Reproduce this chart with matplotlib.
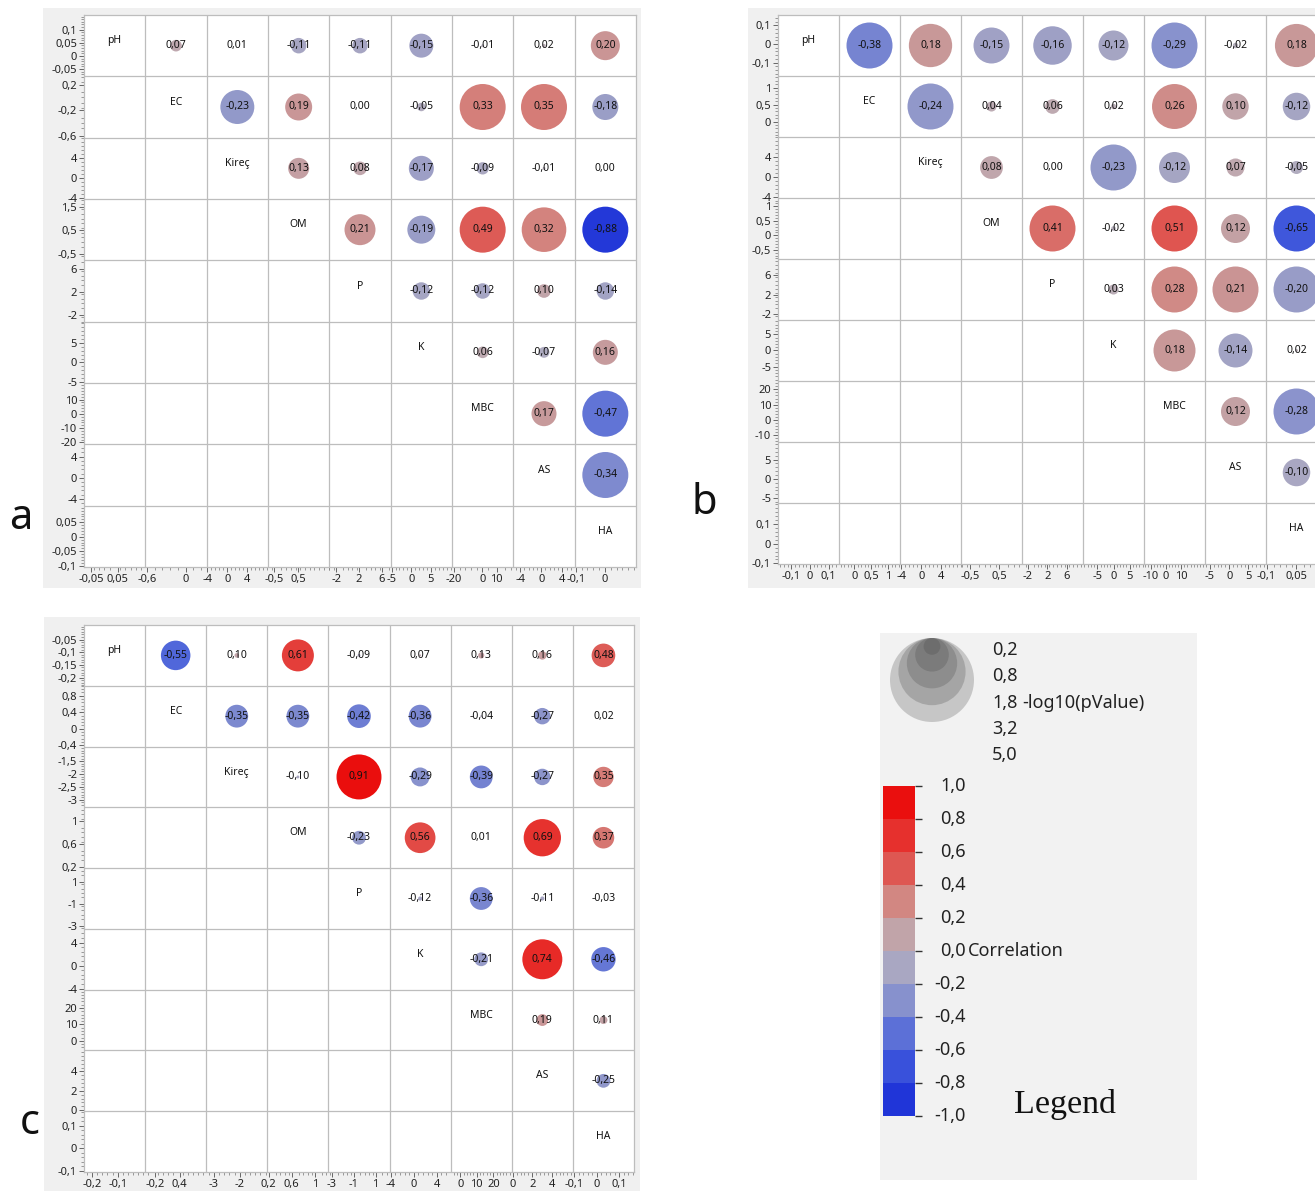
import numpy as np
import matplotlib
matplotlib.use("Agg")
import matplotlib.pyplot as plt
from matplotlib.colors import LinearSegmentedColormap
from matplotlib.patches import Rectangle, Circle
from matplotlib.transforms import blended_transform_factory

plt.rcParams['font.family'] = ['Noto Sans', 'DejaVu Sans']

W, H, DPI = 1315, 1191, 100

variables = ['pH', 'EC', 'Kireç', 'OM', 'P', 'K', 'MBC', 'AS', 'HA']

# upper triangles, one list per row (row i holds columns i+1 .. 8)
corr_a = [
    [0.07, 0.01, -0.11, -0.11, -0.15, -0.01, 0.02, 0.20],
    [-0.23, 0.19, 0.00, -0.05, 0.33, 0.35, -0.18],
    [0.13, 0.08, -0.17, -0.09, -0.01, 0.00],
    [0.21, -0.19, 0.49, 0.32, -0.88],
    [-0.12, -0.12, 0.10, -0.14],
    [0.06, -0.07, 0.16],
    [0.17, -0.47],
    [-0.34],
]
logp_a = [
    [0.32, 0.0, 0.57, 0.57, 1.36, 0.02, 0.03, 1.99],
    [2.73, 1.72, 0.0, 0.17, 5.0, 5.0, 1.6],
    [1.04, 0.44, 1.48, 0.36, 0.02, 0.0],
    [2.27, 1.85, 5.0, 4.7, 5.0],
    [0.72, 0.57, 0.44, 0.72],
    [0.32, 0.28, 1.48],
    [1.48, 5.0],
    [5.0],
]
range_a = [(-0.078, 0.156), (-0.624, 0.328), (-4.14, 8.13), (-0.77, 1.83), (-3.22, 7.53),
           (-5.23, 10.37), (-21.3, 21.6), (-5.28, 6.32), (-0.104, 0.107)]
yticks_a = [[0.1, 0.05, 0, -0.05], [0.2, -0.2, -0.6], [4, 0, -4], [1.5, 0.5, -0.5], [6, 2, -2],
            [5, 0, -5], [10, 0, -10, -20], [4, 0, -4], [0.05, 0, -0.05, -0.1]]
xticks_a = [[-0.05, 0.05], [-0.6, 0], [-4, 0, 4], [-0.5, 0.5], [-2, 2, 6],
            [-5, 0, 5], [-20, 0, 10], [-4, 0, 4], [-0.1, 0]]

corr_b = [
    [-0.38, 0.18, -0.15, -0.16, -0.12, -0.29, -0.02, 0.18],
    [-0.24, 0.04, 0.06, 0.02, 0.26, 0.10, -0.12],
    [0.08, 0.00, -0.23, -0.12, 0.07, -0.05],
    [0.41, -0.02, 0.51, 0.12, -0.65],
    [0.03, 0.28, 0.21, -0.20],
    [0.18, -0.14, 0.02],
    [0.12, -0.28],
    [-0.10],
]
logp_b = [
    [5.0, 4.43, 3.06, 3.5, 2.13, 5.0, 0.07, 4.4],
    [5.0, 0.24, 0.51, 0.07, 4.78, 1.65, 1.79],
    [1.23, 0.0, 5.0, 2.27, 0.77, 0.4],
    [5.0, 0.05, 5.0, 1.99, 5.0],
    [0.24, 5.0, 5.0, 5.0],
    [4.17, 2.73, 0.02],
    [1.99, 5.0],
    [1.79],
]
range_b = [(-0.172, 0.156), (-0.45, 1.34), (-4.3, 8.1), (-0.82, 1.29), (-3.17, 9.28),
           (-9.46, 9.44), (-14.5, 25.5), (-6.3, 9.6), (-0.103, 0.207)]
yticks_b = [[0.1, 0, -0.1], [1, 0.5, 0], [4, 0, -4], [1, 0.5, 0, -0.5], [6, 2, -2],
            [5, 0, -5], [20, 10, 0, -10], [5, 0, -5], [0.1, 0, -0.1]]
xticks_b = [[-0.1, 0, 0.1], [0, 0.5, 1], [-4, 0, 4], [-0.5, 0.5], [-2, 2, 6],
            [-5, 0, 5], [-10, 0, 10], [-5, 0, 5], [-0.1, 0.05]]

corr_c = [
    [-0.55, 0.10, 0.61, -0.09, 0.07, 0.13, 0.16, 0.48],
    [-0.35, -0.35, -0.42, -0.36, -0.04, -0.27, 0.02],
    [-0.10, 0.91, -0.29, -0.39, -0.27, 0.35],
    [-0.23, 0.56, 0.01, 0.69, 0.37],
    [-0.12, -0.36, -0.11, -0.03],
    [-0.21, 0.74, -0.46],
    [0.19, 0.11],
    [-0.25],
]
logp_c = [
    [2.06, 0.05, 2.42, 0.02, 0.01, 0.09, 0.17, 1.32],
    [1.23, 1.23, 1.32, 1.23, 0.01, 0.64, 0.0],
    [0.02, 4.78, 0.85, 1.23, 0.64, 0.98],
    [0.45, 2.23, 0.0, 3.29, 1.1],
    [0.04, 1.23, 0.04, 0.0],
    [0.45, 3.78, 1.41],
    [0.33, 0.15],
    [0.45],
]
range_c = [(-0.232, 0.0074), (-0.434, 1.042), (-3.3, -0.93), (0.178, 1.239), (-3.3, 2.27),
           (-4.2, 6.4), (-5.8, 31.2), (-0.1, 6.17), (-0.105, 0.165)]
yticks_c = [[-0.05, -0.1, -0.15, -0.2], [0.8, 0.4, 0, -0.4], [-1.5, -2, -2.5, -3], [1, 0.6, 0.2],
            [1, -1, -3], [4, 0, -4], [20, 10, 0], [4, 2, 0], [0.1, 0, -0.1]]
xticks_c = [[-0.2, -0.1], [-0.2, 0.4], [-3, -2], [0.2, 0.6, 1], [-3, -1, 1],
            [-4, 0, 4], [0, 10, 20], [0, 2, 4], [-0.1, 0, 0.1]]

# legend values
legend_logp = [0.2, 0.8, 1.8, 3.2, 5.0]
legend_corr = [1.0, 0.8, 0.6, 0.4, 0.2, 0.0, -0.2, -0.4, -0.6, -0.8, -1.0]

corr_stops = [-1.0, -0.6, -0.3, 0.0, 0.3, 0.6, 1.0]
corr_rgb = [(20, 40, 215), (70, 95, 220), (135, 145, 205), (185, 178, 188),
            (210, 135, 130), (228, 65, 60), (236, 0, 0)]
corr_cmap = LinearSegmentedColormap.from_list(
    'corr', [((v + 1) / 2, tuple(c / 255 for c in rgb)) for v, rgb in zip(corr_stops, corr_rgb)])

GRID_C = '#bdbdbd'
PANEL_BG = '#f0f0f0'
D_MAX, P_MAX = 46, 5.0      # bubble diameter (px) at the capped -log10(p)

fig = plt.figure(figsize=(W / DPI, H / DPI), dpi=DPI)


def px_axes(x0, y0, x1, y1):
    return fig.add_axes([x0 / W, 1 - y1 / H, (x1 - x0) / W, (y1 - y0) / H])


def bg_box(x0, y0, x1, y1, color=PANEL_BG):
    fig.add_artist(Rectangle((x0 / W, 1 - y1 / H), (x1 - x0) / W, (y1 - y0) / H,
                             transform=fig.transFigure, facecolor=color,
                             edgecolor='none', zorder=-5))


def fmt(v, nd=None):
    s = f'{v:.{nd}f}' if nd is not None else f'{v:g}'
    return s.replace('.', ',')


def var_ticks(ranges, ticks, flip):
    major, labels, minor = [], [], []
    for k, ((lo, hi), tk) in enumerate(zip(ranges, ticks)):
        span = hi - lo
        pos = (lambda v: k + (hi - v) / span) if flip else (lambda v: k + (v - lo) / span)
        for v in tk:
            major.append(pos(v))
            labels.append(fmt(v))
        step = abs(tk[1] - tk[0]) / 5
        m = np.arange(np.ceil(lo / step) * step, hi, step)
        for v in m:
            if min(abs(v - t) for t in tk) > step / 2:
                minor.append(pos(v))
    return major, labels, minor


def draw_matrix(box, corr, logp, ranges, yticks, xticks):
    ax = px_axes(*box)
    n = len(variables)
    ax.set_xlim(0, n)
    ax.set_ylim(n, 0)
    ax.set_facecolor('white')
    for k in range(1, n):
        ax.axhline(k, color=GRID_C, lw=0.9, zorder=1)
        ax.axvline(k, color=GRID_C, lw=0.9, zorder=1)
    for s in ax.spines.values():
        s.set_color(GRID_C)
        s.set_linewidth(0.9)

    for i, name in enumerate(variables):
        ax.text(i + 0.5, i + 0.42, name, ha='center', va='center', fontsize=7.5, color='#111')

    xs, ys, rs, ps = [], [], [], []
    for i, (rrow, prow) in enumerate(zip(corr, logp)):
        for k, (r, p) in enumerate(zip(rrow, prow)):
            xs.append(i + 1 + k + 0.5)
            ys.append(i + 0.5)
            rs.append(r)
            ps.append(p)
    d_px = D_MAX * np.sqrt(np.minimum(ps, P_MAX) / P_MAX)
    ax.scatter(xs, ys, s=(d_px * 72 / DPI) ** 2, c=rs, cmap=corr_cmap, vmin=-1, vmax=1,
               linewidths=0, zorder=2, clip_on=False)
    for x, y, r in zip(xs, ys, rs):
        ax.text(x, y, fmt(r, 2), ha='center', va='center', fontsize=7.5, color='#111', zorder=3)

    ymaj, ylab, ymin = var_ticks(ranges, yticks, True)
    xmaj, xlab, xmin = var_ticks(ranges, xticks, False)
    ax.set_yticks(ymaj, ylab)
    ax.set_yticks(ymin, minor=True)
    ax.set_xticks(xmaj, xlab)
    ax.set_xticks(xmin, minor=True)
    ax.tick_params(which='major', length=3.5, width=0.7, color='#666', labelsize=8,
                   labelcolor='#222', pad=1.5)
    ax.tick_params(which='minor', length=2, width=0.6, color='#888')
    return ax


bg_box(43, 8, 641, 588)
bg_box(748, 8, 1315, 588)
bg_box(44, 617, 640, 1191)

draw_matrix((84, 15, 636, 567), corr_a, logp_a, range_a, yticks_a, xticks_a)
draw_matrix((778, 15, 1327, 564), corr_b, logp_b, range_b, yticks_b, xticks_b)
draw_matrix((84, 625, 634, 1172), corr_c, logp_c, range_c, yticks_c, xticks_c)

for letter, (x, y) in zip('abc', [(21, 518), (704, 503), (30, 1123)]):
    fig.text(x / W, 1 - y / H, letter, fontsize=30, ha='center', va='center', color='#111')

# legend box
lg = px_axes(880, 633, 1197, 1180)
lg.set_xlim(880, 1197)
lg.set_ylim(1180, 633)
lg.set_facecolor('#f2f2f2')
for s in lg.spines.values():
    s.set_visible(False)
lg.set_xticks([])
lg.set_yticks([])

r_max = 42
for i, p in enumerate(legend_logp):
    r = r_max * np.sqrt(p / legend_logp[-1])
    lg.add_patch(Circle((932, 638 + r), r, facecolor='#464646', alpha=0.25, lw=0))
    lg.text(992, 650 + i * 26.3, fmt(p, 1), fontsize=13, va='center', color='#222')
lg.text(1022, 650 + 2 * 26.3, '-log10(pValue)', fontsize=13, va='center', color='#222')
lg.text(1014, 1104, 'Legend', family='Liberation Serif', fontsize=24.5, va='center', color='#111')

cax = px_axes(883, 786, 915, 1116)
cax.set_xlim(0, 1)
cax.set_ylim(-1, 1)
for hi, lo in zip(legend_corr[:-1], legend_corr[1:]):
    cax.bar(0.5, hi - lo, bottom=lo, width=1, color=corr_cmap((lo + hi) / 2 / 2 + 0.5), lw=0)
for s in cax.spines.values():
    s.set_visible(False)
cax.set_xticks([])
cax.yaxis.tick_right()
cax.set_yticks(legend_corr, [''] * len(legend_corr))
cax.tick_params(axis='y', length=5, width=1, color='#333')
tr = blended_transform_factory(cax.transAxes, cax.transData)
for v in legend_corr:
    cax.text(2.58, v, fmt(v, 1), transform=tr, ha='right', va='center', fontsize=13, color='#222')
cax.text(2.66, 0, 'Correlation', transform=tr, ha='left', va='center', fontsize=13, color='#222')

fig.savefig('out.png', dpi=DPI)
